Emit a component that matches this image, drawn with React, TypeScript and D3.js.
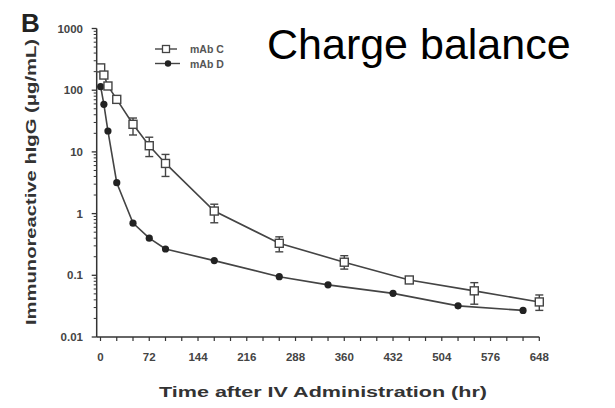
import React from "react";
import * as d3 from "d3";

const timesC = [0.25, 5, 11, 24, 48, 72, 96, 168, 264, 360, 456, 552, 648];
const valuesC = [230, 176, 117, 71, 28, 12.6, 6.5, 1.1, 0.33, 0.163, 0.084, 0.056, 0.037];
const upperC = [230, 176, 117, 71, 35.4, 17.3, 9.1, 1.42, 0.42, 0.208, 0.088, 0.076, 0.048];
const lowerC = [230, 176, 117, 71, 18.8, 8.4, 4.0, 0.71, 0.24, 0.126, 0.08, 0.034, 0.027];

const timesD = [0.25, 5, 11, 24, 48, 72, 96, 168, 264, 336, 432, 528, 624];
const valuesD = [114, 59, 21.8, 3.17, 0.7, 0.4, 0.267, 0.173, 0.095, 0.07, 0.051, 0.032, 0.027];

const xTickLabels = [0, 72, 144, 216, 288, 360, 432, 504, 576, 648];
const yTickLabels = ["0.01", "0.1", "1", "10", "100", "1000"];
const yTickValues = [0.01, 0.1, 1, 10, 100, 1000];
const seriesNames = ["mAb C", "mAb D"];

const FONT = "'Liberation Sans', Arial, sans-serif";
const INK = "#333";

export default function App() {
  const x = d3.scaleLinear().domain([0, 648]).range([100.5, 539.3]);
  const y = d3.scaleLog().domain([0.01, 1000]).range([337, 28.5]);

  const line = d3
    .line<[number, number]>()
    .x((d) => x(d[0]))
    .y((d) => y(d[1]));

  const dataC: [number, number][] = timesC.map((t, i) => [t, valuesC[i]]);
  const dataD: [number, number][] = timesD.map((t, i) => [t, valuesD[i]]);

  const minorY: number[] = [];
  for (let e = -2; e < 3; e++) {
    for (let k = 2; k <= 9; k++) minorY.push(k * Math.pow(10, e));
  }
  const minorX = d3.range(0, 649, 24);

  const axisLeftX = 96.7;
  const axisBottomY = 337;

  return (
    <svg
      width={615}
      height={408}
      style={{ position: "fixed", left: 0, top: 0, background: "#fff" }}
      fontFamily={FONT}
    >
      <rect x={0} y={0} width={615} height={408} fill="#fff" />
      {/* Panel letter */}
      <text x={21} y={32} fontSize={26} fontWeight="bold" fill="#222">
        B
      </text>
      {/* Title */}
      <text x={267} y={58.5} fontSize={43} fill="#000" fontFamily={FONT}>
        Charge balance
      </text>

      {/* Y axis */}
      <line x1={axisLeftX} x2={axisLeftX} y1={y(1000)} y2={axisBottomY} stroke={INK} strokeWidth={1.5} />
      {minorY.map((v, i) => (
        <line key={"my" + i} x1={axisLeftX - 3} x2={axisLeftX} y1={y(v)} y2={y(v)} stroke={INK} strokeWidth={1} />
      ))}
      {yTickValues.map((v, i) => (
        <g key={"yt" + i}>
          <line x1={axisLeftX - 5} x2={axisLeftX} y1={y(v)} y2={y(v)} stroke={INK} strokeWidth={1.3} />
          <text
            x={83}
            y={y(v)}
            dy="0.35em"
            textAnchor="end"
            fontSize={11.5}
            fontWeight="bold"
            fill="#444"
          >
            {yTickLabels[i]}
          </text>
        </g>
      ))}

      {/* X axis */}
      <line x1={axisLeftX} x2={x(648)} y1={axisBottomY} y2={axisBottomY} stroke={INK} strokeWidth={1.5} />
      {minorX.map((t, i) => (
        <line key={"mx" + i} x1={x(t)} x2={x(t)} y1={axisBottomY} y2={axisBottomY + 4} stroke={INK} strokeWidth={1.2} />
      ))}
      {xTickLabels.map((t, i) => (
        <text
          key={"xt" + i}
          x={x(t)}
          y={361}
          textAnchor="middle"
          fontSize={11.5}
          fontWeight="bold"
          fill="#444"
        >
          {t}
        </text>
      ))}

      {/* Axis titles */}
      <text
        x={323}
        y={397}
        textAnchor="middle"
        fontSize={14.5}
        fontWeight="bold"
        fill="#333"
        textLength={328}
        lengthAdjust="spacingAndGlyphs"
      >
        Time after IV Administration (hr)
      </text>
      <text
        transform={`translate(36, 182) rotate(-90)`}
        textAnchor="middle"
        fontSize={14.5}
        fontWeight="bold"
        fill="#333"
        textLength={286}
        lengthAdjust="spacingAndGlyphs"
      >
        Immunoreactive hIgG (μg/mL)
      </text>

      {/* Lines */}
      <path d={line(dataC) || ""} fill="none" stroke="#444" strokeWidth={1.6} />
      <path d={line(dataD) || ""} fill="none" stroke="#444" strokeWidth={1.6} />

      {/* Error bars for C */}
      {timesC.map((t, i) =>
        upperC[i] !== lowerC[i] ? (
          <g key={"eb" + i} stroke="#444" strokeWidth={1.4}>
            <line x1={x(t)} x2={x(t)} y1={y(upperC[i])} y2={y(lowerC[i])} />
            <line x1={x(t) - 4} x2={x(t) + 4} y1={y(upperC[i])} y2={y(upperC[i])} />
            <line x1={x(t) - 4} x2={x(t) + 4} y1={y(lowerC[i])} y2={y(lowerC[i])} />
          </g>
        ) : null
      )}

      {/* Markers D */}
      {dataD.map((d, i) => (
        <circle key={"d" + i} cx={x(d[0])} cy={y(d[1])} r={3.6} fill="#222" />
      ))}
      {/* Markers C */}
      {dataC.map((d, i) => (
        <rect
          key={"c" + i}
          x={x(d[0]) - 4}
          y={y(d[1]) - 4}
          width={8}
          height={8}
          fill="#fff"
          stroke="#444"
          strokeWidth={1.4}
        />
      ))}

      {/* Legend */}
      <line x1={155} x2={177} y1={49} y2={49} stroke="#444" strokeWidth={1.4} />
      <rect x={162.5} y={45.5} width={7} height={7} fill="#fff" stroke="#444" strokeWidth={1.3} />
      <text x={190} y={53} fontSize={10.5} fontWeight="bold" fill="#555">
        {seriesNames[0]}
      </text>
      <line x1={155} x2={180} y1={63.5} y2={63.5} stroke="#444" strokeWidth={1.4} />
      <circle cx={168} cy={63.5} r={3.2} fill="#222" />
      <text x={190} y={67.5} fontSize={10.5} fontWeight="bold" fill="#555">
        {seriesNames[1]}
      </text>
    </svg>
  );
}
